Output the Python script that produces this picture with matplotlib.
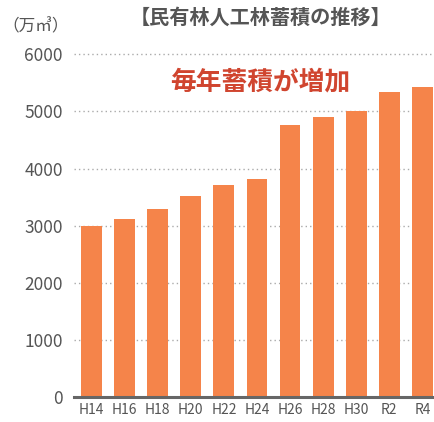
import matplotlib
matplotlib.use("Agg")
import matplotlib.pyplot as plt

plt.rcParams['font.family'] = ['Noto Sans CJK JP', 'DejaVu Sans']

# data (万m3)
years = ['H14', 'H16', 'H18', 'H20', 'H22', 'H24', 'H26', 'H28', 'H30', 'R2', 'R4']
volume = [2990, 3110, 3290, 3515, 3705, 3825, 4755, 4900, 5005, 5345, 5430]
yticks = [0, 1000, 2000, 3000, 4000, 5000, 6000]

bar_color = '#f5844a'
text_gray = '#555555'

fig = plt.figure(figsize=(4.34, 4.22), dpi=100)
ax = fig.add_axes([0.1705, 0.0592, 0.8295, 0.8121])

x = range(len(years))
ax.bar(x, volume, width=0.63, color=bar_color, zorder=2)

# dotted grid lines
for v in yticks[1:]:
    ax.axhline(v, color='#aaaaaa', lw=1.0, ls=(0, (1, 2.2)), zorder=1, clip_on=False)

ax.set_xlim(-0.53, 10.35)
ax.set_ylim(0, 6000)
ax.set_xticks(list(x))
ax.set_xticklabels(years, fontsize=10, color=text_gray)
ax.set_yticks(yticks)
ax.set_yticklabels([str(v) for v in yticks], fontsize=12.5, color=text_gray)
ax.tick_params(axis='both', length=0)
ax.tick_params(axis='y', pad=8)
ax.tick_params(axis='x', pad=4)

for s in ['top', 'right', 'left']:
    ax.spines[s].set_visible(False)
ax.spines['bottom'].set_color('#666666')
ax.spines['bottom'].set_linewidth(2.2)
ax.spines['bottom'].set_zorder(3)

fig.text(0.60, 0.958, '【民有林人工林蓄積の推移】', ha='center', va='center',
         fontsize=14.5, fontweight='bold', color=text_gray)
fig.text(0.005, 0.936, '（万㎥）', ha='left', va='center', fontsize=12, color=text_gray)
fig.text(0.60, 0.805, '毎年蓄積が増加', ha='center', va='center',
         fontsize=18.5, fontweight='bold', color='#d0452f')

fig.savefig('out.png', dpi=100)
